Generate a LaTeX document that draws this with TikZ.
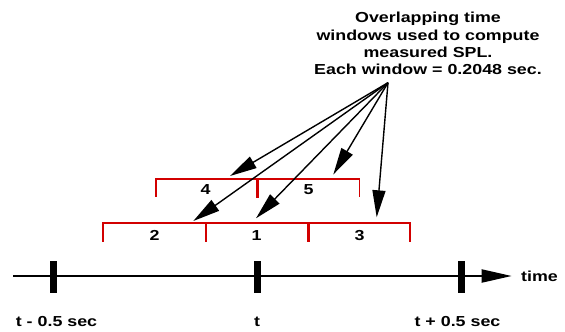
\documentclass[tikz,border=0pt]{standalone}
\usepackage{fontspec}
\setmainfont{Liberation Sans}
\usetikzlibrary{arrows.meta}
\definecolor{winred}{RGB}{210,0,0}
\newcommand\widetxt[1]{\scalebox{1.23}[1]{#1}}
\tikzset{
  lbl/.style={font=\fontsize{14.5}{17}\bfseries\selectfont, inner sep=0pt, anchor=base},
  win/.style={draw=winred, line width=1.8pt},
  wintick/.style={draw=winred, line width=2.8pt},
  pointer/.style={draw=black, line width=1.4pt, -{Triangle[length=27pt,width=13pt]}},
  axisline/.style={draw=black, line width=2pt, -{Triangle[length=30pt,width=13pt]}},
  axtick/.style={draw=black, line width=7pt}
}
\begin{document}
\begin{tikzpicture}[x=1pt,y=-1pt]
\useasboundingbox (0,0) rectangle (565,332);
% title
\node[lbl] (t1) at (428,23) {\widetxt{Overlapping time}};
\node[lbl] (t2) at (428,40) {\widetxt{windows used to compute}};
\node[lbl] (t3) at (428,57) {\widetxt{measured SPL.}};
\node[lbl] (t4) at (428,74.5) {\widetxt{Each window = 0.2048 sec.}};
\coordinate (src) at (388,82.7);
% upper windows
\draw[win] (155.7,196.7) -- (155.7,179.3) -- (359.5,179.3) -- (359.5,196.7);
\draw[wintick] (257.3,179.3) -- (257.3,198);
\node[lbl] (n4) at (205.5,194.5) {\widetxt{4}};
\node[lbl] (n5) at (308.5,194.5) {\widetxt{5}};
% lower windows
\draw[win] (103.3,241.5) -- (103.3,222.7) -- (410,222.7) -- (410,241.5);
\draw[wintick] (206,222.7) -- (206,242);
\draw[wintick] (308.3,222.7) -- (308.3,242);
\node[lbl] (n2) at (154.5,240) {\widetxt{2}};
\node[lbl] (n1) at (256.5,240) {\widetxt{1}};
\node[lbl] (n3) at (359.5,240) {\widetxt{3}};
% arrow targets
\coordinate (a4) at (230,176);
\coordinate (a2) at (193.3,221);
\coordinate (a1) at (256,218.3);
\coordinate (a5) at (333.3,174.5);
\coordinate (a3) at (376.7,217.3);
\draw[pointer] (src) -- (a4);
\draw[pointer] (src) -- (a2);
\draw[pointer] (src) -- (a1);
\draw[pointer] (src) -- (a5);
\draw[pointer] (src) -- (a3);
% time axis
\coordinate (ax0) at (13.3,276);
\coordinate (ax1) at (511.7,276);
\draw[axisline] (ax0) -- (ax1);
\draw[axtick] (53,261) -- (53,293.3);
\draw[axtick] (257,261) -- (257,293.3);
\draw[axtick] (461,261) -- (461,293.3);
\node[lbl, anchor=base west] (time) at (521,281.5) {\widetxt{time}};
\node[lbl] (lm) at (56.5,326) {\widetxt{t - 0.5 sec}};
\node[lbl] (lt) at (257,326) {\widetxt{t}};
\node[lbl] (lp) at (457.5,326) {\widetxt{t + 0.5 sec}};
\end{tikzpicture}
\end{document}
